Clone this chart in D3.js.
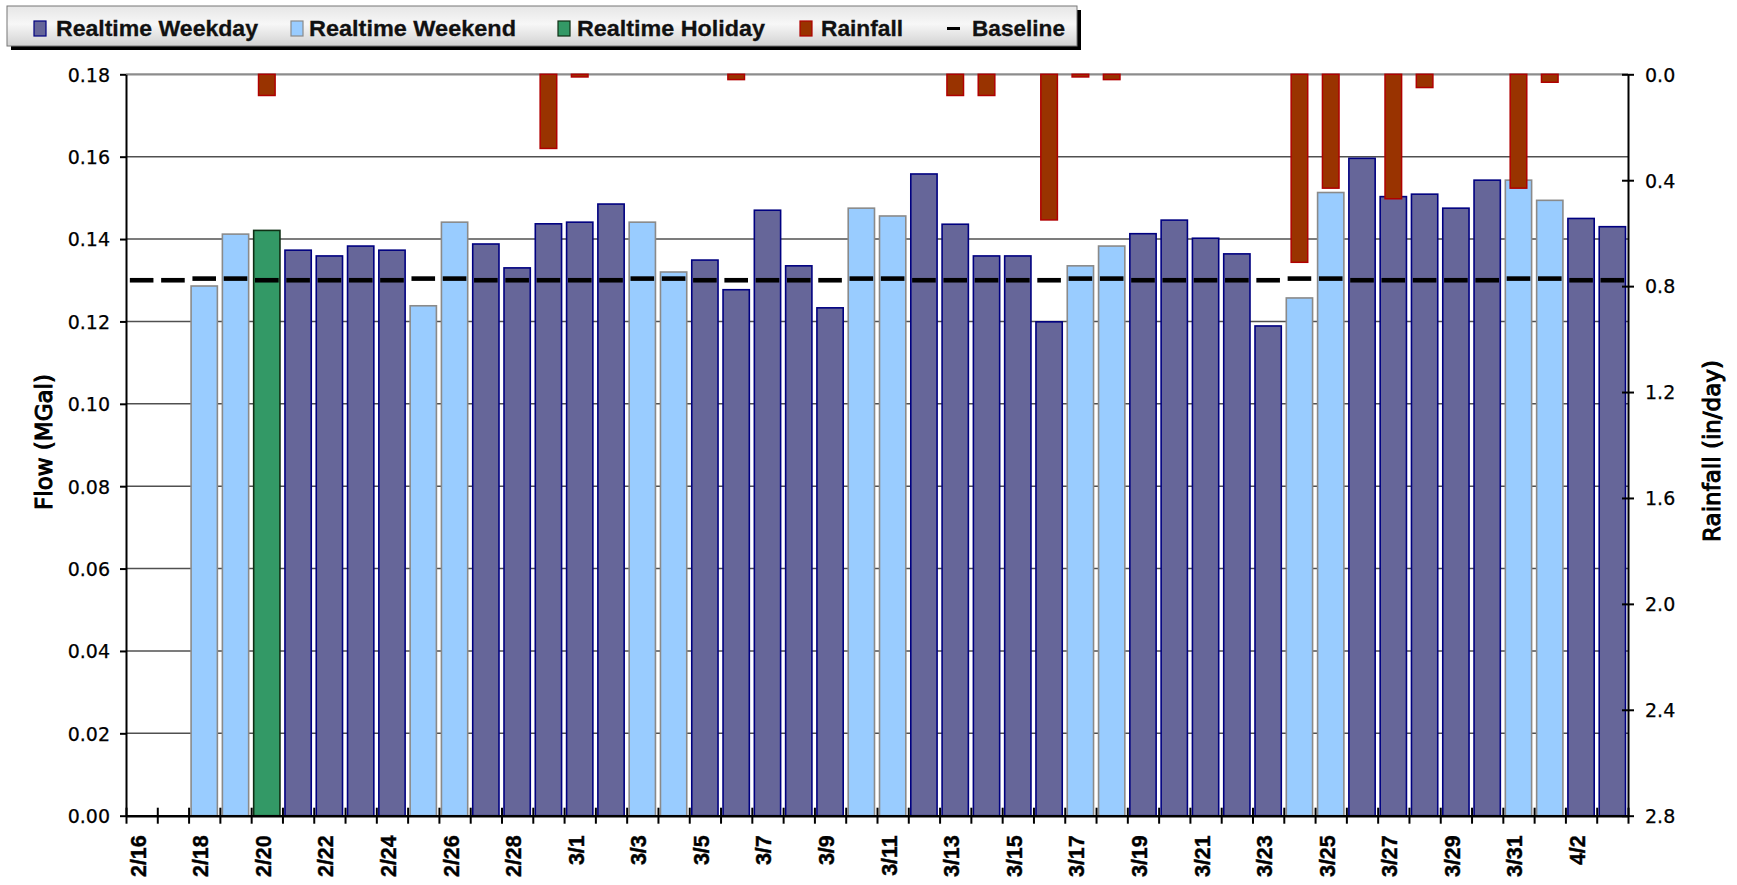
<!DOCTYPE html>
<html><head><meta charset="utf-8">
<script src="https://cdn.jsdelivr.net/npm/d3@7"></script>
<style>body{margin:0;background:#fff;} svg{display:block}</style>
</head><body>
<svg id="chart" width="1737" height="885"></svg>
<script>
// ---------------- DATA ----------------
const dates = ["2/16","2/17","2/18","2/19","2/20","2/21","2/22","2/23","2/24","2/25","2/26","2/27","2/28","2/29",
  "3/1","3/2","3/3","3/4","3/5","3/6","3/7","3/8","3/9","3/10","3/11","3/12","3/13","3/14","3/15","3/16",
  "3/17","3/18","3/19","3/20","3/21","3/22","3/23","3/24","3/25","3/26","3/27","3/28","3/29","3/30","3/31",
  "4/1","4/2","4/3"];
const weekdayFlow = [null,null,null,null,null,0.1373,0.1359,0.1383,0.1373,null,null,0.1388,0.1330,0.1437,
  0.1441,0.1485,null,null,0.1349,0.1277,0.1470,0.1335,0.1233,null,null,0.1558,0.1436,0.1359,0.1359,0.1199,
  null,null,0.1413,0.1446,0.1402,0.1364,0.1189,null,null,0.1596,0.1503,0.1509,0.1475,0.1543,null,
  null,0.1450,0.1430];
const weekendFlow = [null,null,0.1286,0.1412,null,null,null,null,null,0.1238,0.1441,null,null,null,
  null,null,0.1441,0.1320,null,null,null,null,null,0.1475,0.1456,null,null,null,null,null,
  0.1335,0.1383,null,null,null,null,null,0.1257,0.1513,null,null,null,null,null,0.1543,
  0.1494,null,null];
const holidayFlow = [null,null,null,null,0.1421,null,null,null,null,null,null,null,null,null,
  null,null,null,null,null,null,null,null,null,null,null,null,null,null,null,null,
  null,null,null,null,null,null,null,null,null,null,null,null,null,null,null,
  null,null,null];
const rainfall = [0,0,0,0,0.08,0,0,0,0,0,0,0,0,0.28,
  0.01,0,0,0,0,0.02,0,0,0,0,0,0,0.08,0.08,0,0.55,
  0.01,0.02,0,0,0,0,0,0.71,0.43,0,0.47,0.05,0,0,0.43,
  0.03,0,0];
const baseline = [0.1300,0.1300,0.1304,0.1304,0.1300,0.1300,0.1300,0.1300,0.1300,0.1304,0.1304,0.1300,0.1300,0.1300,
  0.1300,0.1300,0.1304,0.1304,0.1300,0.1300,0.1300,0.1300,0.1300,0.1304,0.1304,0.1300,0.1300,0.1300,0.1300,0.1300,
  0.1304,0.1304,0.1300,0.1300,0.1300,0.1300,0.1300,0.1304,0.1304,0.1300,0.1300,0.1300,0.1300,0.1300,0.1304,
  0.1304,0.1300,0.1300];
const flowTicks = [0,0.02,0.04,0.06,0.08,0.10,0.12,0.14,0.16,0.18];
const rainTicks = [0,0.4,0.8,1.2,1.6,2.0,2.4,2.8];
const xLabels = dates.filter((d,i)=>i%2===0);
const legendLabels = ["Realtime Weekday","Realtime Weekend","Realtime Holiday","Rainfall","Baseline"];
const flowTitle = "Flow (MGal)";
const rainTitle = "Rainfall (in/day)";

// ---------------- LAYOUT / STYLE ----------------
const svg = d3.select("#chart");
const L = 126, R = 1628, T = 74.3, B = 815.7;
const x = d3.scaleBand().domain(dates).range([L, R]).padding(0);
const y = d3.scaleLinear().domain([0, 0.18]).range([B, T]);
const yR = d3.scaleLinear().domain([0, 2.8]).range([T, B]);
const bw = x.bandwidth();
const flowW = bw * 0.84, rainW = bw * 0.53;

const styles = {
  weekday: {fill:"#666699", stroke:"#000080"},
  weekend: {fill:"#99CCFF", stroke:"#8a8a8a"},
  holiday: {fill:"#339966", stroke:"#0f2f14"},
  rain:    {fill:"#993300", stroke:"#b00000"}
};

// gridlines
svg.append("g").selectAll("line").data(flowTicks.filter(t => t > 0)).join("line")
  .attr("x1", L).attr("x2", R)
  .attr("y1", d => y(d)).attr("y2", d => y(d))
  .attr("stroke", d => d === 0.18 ? "#8c8c8c" : "#505050")
  .attr("stroke-width", d => d === 0.18 ? 2.2 : 1.5);

// flow bars
function drawFlow(arr, st) {
  const data = dates.map((d, i) => ({d, v: arr[i]})).filter(o => o.v != null);
  svg.append("g").selectAll("rect").data(data).join("rect")
    .attr("x", o => x(o.d) + (bw - flowW) / 2)
    .attr("width", flowW)
    .attr("y", o => y(o.v))
    .attr("height", o => y(0) - y(o.v))
    .attr("fill", st.fill).attr("stroke", st.stroke).attr("stroke-width", 1.6);
}
drawFlow(weekdayFlow, styles.weekday);
drawFlow(weekendFlow, styles.weekend);
drawFlow(holidayFlow, styles.holiday);

// rainfall bars (hanging from top, secondary inverted axis)
const rainData = dates.map((d, i) => ({d, v: rainfall[i]})).filter(o => o.v > 0);
svg.append("g").selectAll("rect").data(rainData).join("rect")
  .attr("x", o => x(o.d) + (bw - rainW) / 2)
  .attr("width", rainW)
  .attr("y", yR(0))
  .attr("height", o => yR(o.v) - yR(0))
  .attr("fill", styles.rain.fill).attr("stroke", styles.rain.stroke).attr("stroke-width", 1.5);

// baseline dashes
const baseData = dates.map((d, i) => ({d, v: baseline[i]}));
svg.append("g").selectAll("line").data(baseData).join("line")
  .attr("x1", o => x(o.d) + bw / 2 - 11.8)
  .attr("x2", o => x(o.d) + bw / 2 + 11.8)
  .attr("y1", o => y(o.v)).attr("y2", o => y(o.v))
  .attr("stroke", "#000").attr("stroke-width", 4.6);

// left axis
const gL = svg.append("g").attr("transform", `translate(${L},0)`)
  .call(d3.axisLeft(y).tickValues(flowTicks).tickFormat(d3.format(".2f")).tickSize(6).tickSizeOuter(0).tickPadding(10));
gL.select(".domain").attr("stroke", "#000").attr("stroke-width", 2);
gL.selectAll(".tick line").attr("stroke", "#000").attr("stroke-width", 2);
gL.selectAll(".tick text").attr("font-family", "DejaVu Sans").attr("font-size", 19).attr("fill", "#000")
  .attr("stroke", "#000").attr("stroke-width", 0.25).attr("dy", "0.36em");

// right axis
const gR = svg.append("g").attr("transform", `translate(${R},0)`)
  .call(d3.axisRight(yR).tickValues(rainTicks).tickFormat(d3.format(".1f")).tickSize(6).tickSizeOuter(0).tickPadding(11));
gR.select(".domain").attr("stroke", "#000").attr("stroke-width", 2);
gR.selectAll(".tick line").attr("x1", -6).attr("stroke", "#000").attr("stroke-width", 2);
gR.selectAll(".tick text").attr("font-family", "DejaVu Sans").attr("font-size", 19).attr("fill", "#000")
  .attr("stroke", "#000").attr("stroke-width", 0.25).attr("dy", "0.36em");

// bottom axis: tick marks at category boundaries
const xb = d3.scaleLinear().domain([0, dates.length]).range([L, R]);
const gB = svg.append("g").attr("transform", `translate(0,${B})`)
  .call(d3.axisBottom(xb).tickValues(d3.range(dates.length + 1)).tickFormat("").tickSize(8).tickSizeOuter(0));
gB.select(".domain").attr("stroke", "#000").attr("stroke-width", 2.4);
gB.selectAll(".tick line").attr("y1", -8).attr("stroke", "#000").attr("stroke-width", 2);

// bottom axis labels
const gBL = svg.append("g").attr("transform", `translate(0,${B})`)
  .call(d3.axisBottom(x).tickValues(xLabels).tickSize(0));
gBL.select(".domain").remove();
gBL.selectAll(".tick text")
  .attr("transform", "rotate(-90)")
  .attr("x", -19.5).attr("y", 4).attr("dy", 0)
  .attr("text-anchor", "end")
  .attr("font-family", "Liberation Sans, Arial, sans-serif")
  .attr("font-weight", "bold").attr("font-size", 21.5).attr("fill", "#000")
  .attr("stroke", "#000").attr("stroke-width", 0.4);

// axis titles
svg.append("text").text(flowTitle)
  .attr("transform", "translate(51.5,442) rotate(-90)")
  .attr("text-anchor", "middle")
  .attr("font-family", "DejaVu Sans").attr("font-size", 23)
  .attr("fill", "#000").attr("stroke", "#000").attr("stroke-width", 1);
svg.append("text").text(rainTitle)
  .attr("transform", "translate(1720,451) rotate(-90)")
  .attr("text-anchor", "middle")
  .attr("font-family", "DejaVu Sans").attr("font-size", 23)
  .attr("fill", "#000").attr("stroke", "#000").attr("stroke-width", 1);

// legend
const defs = svg.append("defs");
const grad = defs.append("linearGradient").attr("id", "lg").attr("x1", 0).attr("y1", 0).attr("x2", 0).attr("y2", 1);
grad.append("stop").attr("offset", "0%").attr("stop-color", "#e6e6e6");
grad.append("stop").attr("offset", "45%").attr("stop-color", "#f7f7f7");
grad.append("stop").attr("offset", "100%").attr("stop-color", "#d2d2d2");
const lg = svg.append("g");
lg.append("rect").attr("x", 11).attr("y", 10).attr("width", 1070).attr("height", 40).attr("fill", "#000");
lg.append("rect").attr("x", 7).attr("y", 6).attr("width", 1070).attr("height", 40)
  .attr("fill", "url(#lg)").attr("stroke", "#777").attr("stroke-width", 1);
const legMarkX = [34, 291, 558, 800];
const legStyles = [styles.weekday, styles.weekend, styles.holiday, styles.rain];
const legTextX = [56, 309, 577, 821, 972];
const legTextLen = [202, 207, 188, 82, 93];
legStyles.forEach((st, i) => {
  lg.append("rect").attr("x", legMarkX[i]).attr("y", 21).attr("width", 12).attr("height", 15)
    .attr("fill", st.fill).attr("stroke", st.stroke).attr("stroke-width", 1.2);
});
lg.append("line").attr("x1", 947).attr("x2", 960).attr("y1", 28.5).attr("y2", 28.5)
  .attr("stroke", "#000").attr("stroke-width", 3);
legendLabels.forEach((t, i) => {
  lg.append("text").text(t).attr("x", legTextX[i]).attr("y", 36)
    .attr("font-family", "Liberation Sans, Arial, sans-serif").attr("font-weight", "bold")
    .attr("font-size", 21.5).attr("fill", "#111").attr("stroke", "#111").attr("stroke-width", 0.3)
    .attr("textLength", legTextLen[i]).attr("lengthAdjust", "spacingAndGlyphs");
});
</script>
</body></html>
